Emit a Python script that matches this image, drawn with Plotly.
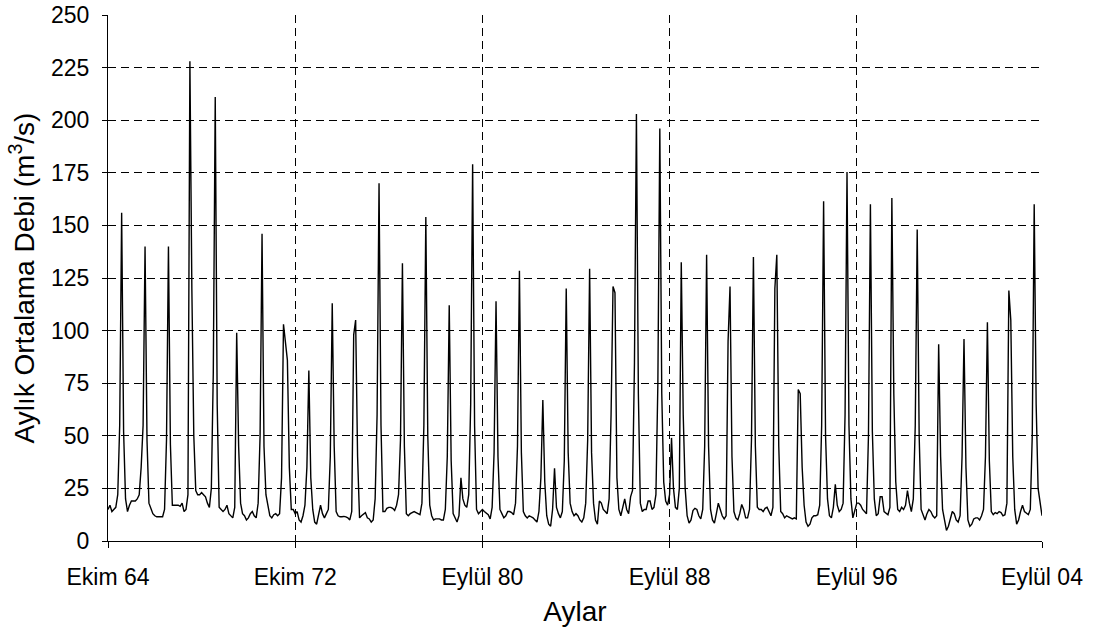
import plotly.graph_objects as go

# Monthly mean discharge (m3/s), water years Oct-Sep
debi_1964_1974 = [
    15, 17, 14, 15, 16, 22, 55, 156, 52, 20, 14, 17,
    19, 19, 19, 20, 22, 35, 55, 140, 48, 18, 15, 13,
    12, 11.5, 11.5, 11.5, 11.5, 15, 48, 140, 46, 17, 17, 17,
    17, 16.5, 18, 14, 15, 22, 228, 120, 50, 24, 22, 22,
    23, 22, 21, 18, 16, 25, 80, 211, 65, 16, 15, 14,
    15, 17, 13, 12, 11, 16, 99, 45, 18, 13, 12, 10,
    11, 13, 14, 12, 11, 18, 50, 146, 45, 22, 17, 12,
    11, 12.5, 13, 12, 13, 30, 103, 95, 86, 35, 15, 15,
    13, 14, 10, 9, 12, 17, 35, 81, 30, 15, 9, 8,
    13, 17, 13, 11, 13, 15, 40, 113, 45, 14, 12, 11.5,
]
debi_1974_1984 = [
    11.5, 11.7, 11.5, 11, 10, 14, 98, 105, 40, 11, 12, 13,
    13.5, 11, 10.5, 9, 10, 20, 60, 170, 55, 14, 14, 15.5,
    16, 16, 15.5, 14.5, 17, 22, 48, 132, 45, 13, 12, 13,
    13.5, 14, 13.5, 13, 12.5, 18, 55, 154, 50, 17, 12, 10,
    10.5, 10.5, 10.5, 10, 10, 15, 40, 112, 38, 13, 11, 9,
    12, 30, 20, 17, 16, 22, 65, 179, 55, 15, 13, 14,
    15, 14, 13, 12.5, 10.5, 16, 42, 114, 40, 15, 13, 11,
    12, 14, 14, 13.5, 12.5, 18, 45, 128.5, 42, 14, 12, 11,
    12, 11.5, 11, 10, 9, 14, 30, 67, 28, 12, 8, 7,
    15, 34.6, 16, 13, 11, 14, 38, 120, 42, 18, 14, 12,
]
debi_1984_1994 = [
    13, 12, 10, 9, 11, 18, 48, 129.4, 42, 18, 10, 8,
    19, 18, 15, 14, 13, 20, 60, 121, 118, 30, 15, 12,
    16, 20, 15, 13, 21, 24, 85, 203, 70, 18, 14, 15,
    15, 19, 19, 15, 16, 22, 75, 196, 70, 28, 19, 17,
    22, 49, 25, 16, 15, 25, 132.5, 60, 25, 12, 8.5, 10,
    14.5, 15.5, 15, 12, 10.5, 15, 45, 136, 45, 15, 10, 8.5,
    13, 18, 15, 12, 10.5, 12, 95, 121, 40, 14, 11, 10,
    13, 17.4, 15, 11, 11, 15, 48, 135, 45, 16, 15, 15,
    14, 15.5, 16, 14, 12, 16, 120, 136, 45, 14, 13, 11,
    12, 11.5, 11, 10.5, 11, 10.5, 72, 70, 35, 17, 9, 7,
]
debi_1994_2004 = [
    8, 11, 12, 12, 12.5, 17, 55, 161.5, 50, 20, 12, 11,
    16, 27, 17, 14, 15, 18, 60, 175.4, 55, 20, 11, 14,
    18, 18, 17, 15, 14, 13, 50, 160, 52, 20, 12, 13,
    21, 21, 14, 13, 12.5, 16, 163, 70, 28, 15, 14, 16,
    15, 17, 24, 18, 14, 20, 55, 148, 50, 15, 12, 10,
    13, 15, 14, 12, 11, 12, 93.5, 40, 15, 10, 5, 7,
    11, 14, 13, 10, 9, 12, 40, 96, 35, 10, 7, 8,
    10.5, 11, 11, 10, 12, 15, 40, 104, 38, 14, 12.5, 13.5,
    13, 14, 13.5, 12, 12.5, 18, 119, 105, 40, 15, 8, 10,
    14, 17, 14, 13, 12.5, 15, 50, 160, 65, 25, 17, 12,
]

debi = debi_1964_1974 + debi_1974_1984 + debi_1984_1994 + debi_1994_2004
months = list(range(len(debi)))  # month index, 0 = Ekim 1964

tick_months = [0, 96, 192, 288, 384, 479]
tick_labels = ["Ekim 64", "Ekim 72", "Eylül 80", "Eylül 88", "Eylül 96", "Eylül 04"]
y_ticks = list(range(0, 251, 25))

FONT = "Liberation Sans, Arial, sans-serif"
FS = 23

fig = go.Figure(
    go.Scatter(
        x=months,
        y=debi,
        mode="lines",
        line=dict(color="black", width=1.4),
        hoverinfo="skip",
    )
)

fig.update_layout(
    width=1101,
    height=634,
    margin=dict(l=108, r=59, t=15, b=93),
    paper_bgcolor="white",
    plot_bgcolor="white",
    showlegend=False,
    font=dict(family=FONT, size=FS, color="black"),
)

grid_style = dict(
    showgrid=True,
    gridcolor="black",
    gridwidth=1,
    griddash="8px,5px",
    showline=True,
    linecolor="black",
    linewidth=1,
    ticks="outside",
    tickcolor="black",
    zeroline=False,
    automargin=False,
)

fig.update_xaxes(
    range=[0, 479],
    tickmode="array",
    tickvals=tick_months,
    ticktext=tick_labels,
    ticklen=6,
    ticklabelstandoff=9,
    title=dict(text="Aylar", standoff=12),
    tickfont=dict(size=FS),
    **grid_style,
)

fig.update_yaxes(
    range=[0, 250],
    tickmode="array",
    tickvals=y_ticks,
    ticklen=5,
    ticklabelstandoff=8,
    title=dict(text="Aylık Ortalama Debi (m<sup>3</sup>/s)", standoff=8),
    tickfont=dict(size=FS),
    **grid_style,
)

fig.write_html("out.html")
